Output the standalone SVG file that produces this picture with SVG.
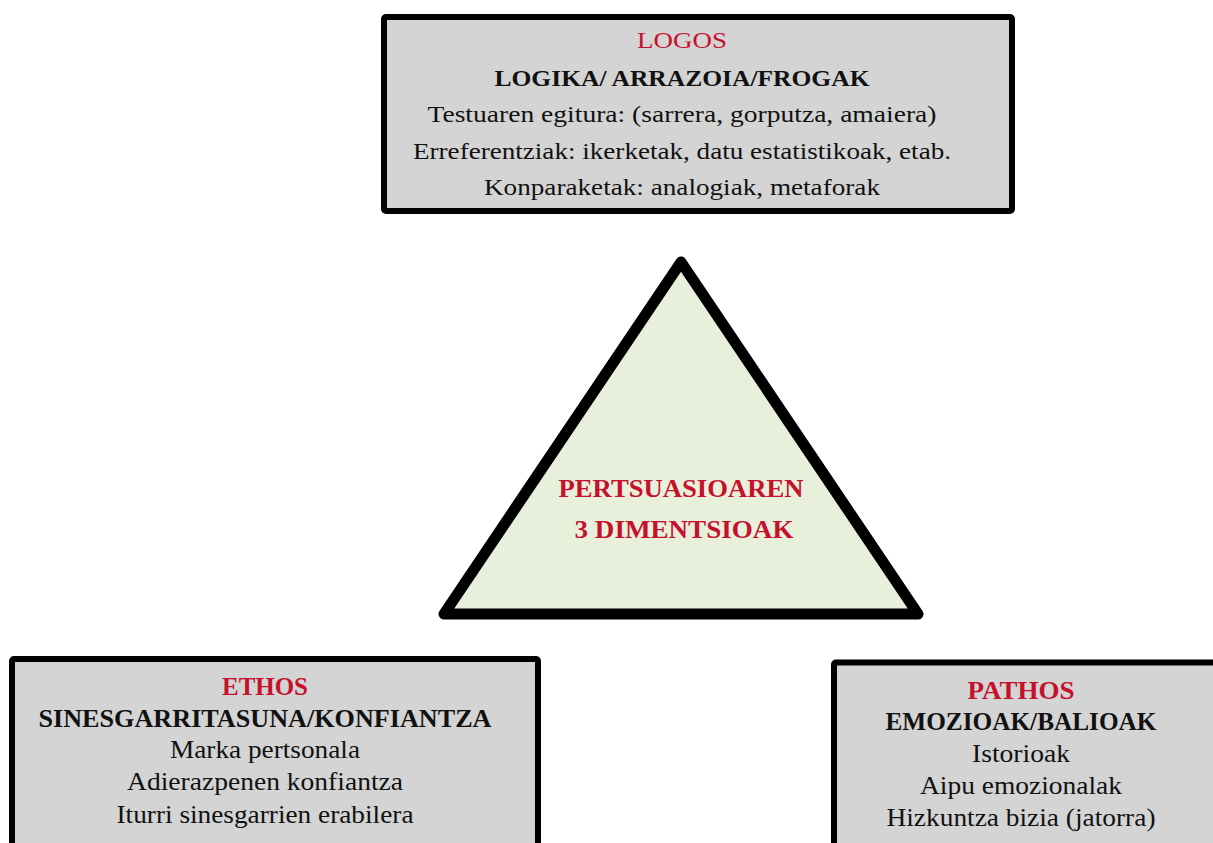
<svg xmlns="http://www.w3.org/2000/svg" width="1213" height="843" viewBox="0 0 1213 843">
<style>
.box{fill:#d4d4d4;stroke:#000;stroke-width:6;stroke-linejoin:round}
text{font-family:"Liberation Serif","Times New Roman",serif;text-anchor:middle;fill:#111}
.red{fill:#c5112c}
.b{font-weight:bold}
.t{font-size:23.5px}
.s{font-size:25.5px}
</style>
<rect width="1213" height="843" fill="#fff"/>
<g id="logos">
<rect class="box" x="384" y="17" width="628" height="194" rx="2"/>
<text class="t red" x="682" y="47.5" textLength="90" lengthAdjust="spacingAndGlyphs">LOGOS</text>
<text class="t b" x="682" y="86" textLength="375" lengthAdjust="spacingAndGlyphs">LOGIKA/ ARRAZOIA/FROGAK</text>
<text class="t" x="682" y="122" textLength="509" lengthAdjust="spacingAndGlyphs">Testuaren egitura: (sarrera, gorputza, amaiera)</text>
<text class="t" x="682" y="159" textLength="538" lengthAdjust="spacingAndGlyphs">Erreferentziak: ikerketak, datu estatistikoak, etab.</text>
<text class="t" x="682" y="195" textLength="396" lengthAdjust="spacingAndGlyphs">Konparaketak: analogiak, metaforak</text>
</g>
<g id="center">
<polygon points="681,262 444,614 918,614" fill="#e8f0dc" stroke="#000" stroke-width="11" stroke-linejoin="round"/>
<text class="b red" style="font-size:26px" x="681" y="497" textLength="245" lengthAdjust="spacingAndGlyphs">PERTSUASIOAREN</text>
<text class="b red" style="font-size:26px" x="684" y="538" textLength="219" lengthAdjust="spacingAndGlyphs">3 DIMENTSIOAK</text>
</g>
<g id="ethos">
<rect class="box" x="12" y="659" width="526" height="220" rx="2"/>
<text class="s b red" x="265" y="695" textLength="86" lengthAdjust="spacingAndGlyphs">ETHOS</text>
<text class="s b" x="265" y="727" textLength="453" lengthAdjust="spacingAndGlyphs">SINESGARRITASUNA/KONFIANTZA</text>
<text class="s" x="265" y="758" textLength="190" lengthAdjust="spacingAndGlyphs">Marka pertsonala</text>
<text class="s" x="265" y="790" textLength="276" lengthAdjust="spacingAndGlyphs">Adierazpenen konfiantza</text>
<text class="s" x="265" y="823" textLength="297" lengthAdjust="spacingAndGlyphs">Iturri sinesgarrien erabilera</text>
</g>
<g id="pathos">
<rect class="box" x="834" y="662.5" width="420" height="220" rx="2"/>
<text class="s b red" x="1021" y="699" textLength="107" lengthAdjust="spacingAndGlyphs">PATHOS</text>
<text class="s b" x="1021" y="730" textLength="271" lengthAdjust="spacingAndGlyphs">EMOZIOAK/BALIOAK</text>
<text class="s" x="1021" y="762" textLength="98" lengthAdjust="spacingAndGlyphs">Istorioak</text>
<text class="s" x="1021" y="794" textLength="202" lengthAdjust="spacingAndGlyphs">Aipu emozionalak</text>
<text class="s" x="1021" y="826" textLength="269" lengthAdjust="spacingAndGlyphs">Hizkuntza bizia (jatorra)</text>
</g>
<g id="connectors"></g>
</svg>
